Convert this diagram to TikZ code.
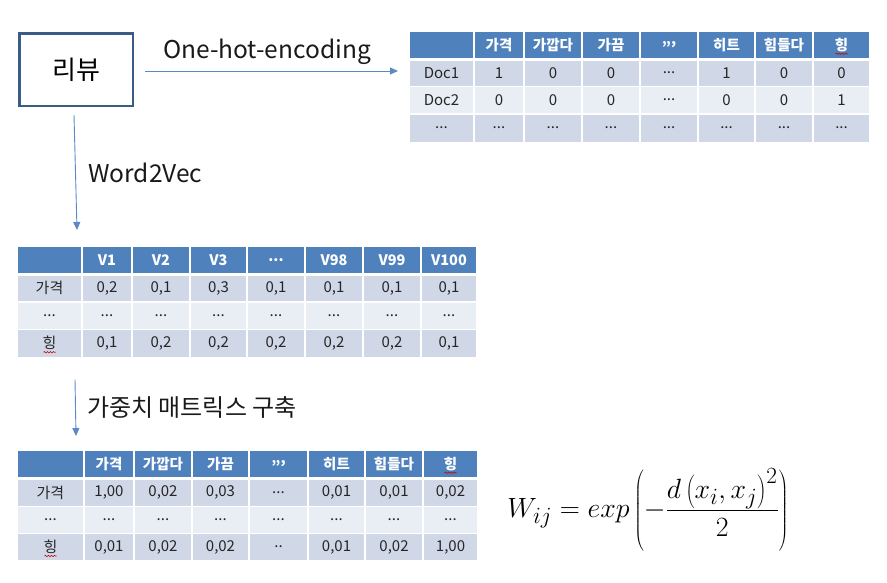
\documentclass[tikz,border=0pt]{standalone}
\usepackage{fontspec}
\setmainfont{Noto Sans CJK KR}
\usetikzlibrary{arrows.meta,decorations.pathmorphing,calc}
\definecolor{hdr}{HTML}{4F81BD}
\definecolor{rowa}{HTML}{D0D8E8}
\definecolor{rowb}{HTML}{E9EDF4}
\definecolor{boxc}{HTML}{3B5C86}
\definecolor{arrc}{HTML}{5A8AC6}

\newcommand{\tabrow}[7]{%
  \foreach \ctext [count=\ci from 0] in {#7} {%
    \pgfmathsetmacro\xa{{#6}[\ci]}%
    \pgfmathsetmacro\xb{{#6}[\ci+1]}%
    \node[#5, minimum width={(\xb-\xa-2)*1pt}, minimum height={(#4-#3)*1pt}]
      (#1-#2-\ci) at ({(\xa+\xb)/2},{(#3+#4)/2}) {\ctext};
  }}
\newcommand{\ddd}{...}
\newcommand{\dtwo}{..}

\begin{document}
\begin{tikzpicture}[x=1pt,y=-1pt,
  cellbase/.style={inner sep=0pt, outer sep=0pt, font=\fontsize{15}{17}\selectfont},
  hcell/.style={cellbase, fill=hdr, text=white, font=\fontsize{14.5}{17}\selectfont\bfseries},
  acell/.style={cellbase, fill=rowa, text=black!85},
  bcell/.style={cellbase, fill=rowb, text=black!85},
  arr/.style={draw=arrc, line width=0.9pt, -{Triangle[length=8pt,width=7pt]}},
  lbl/.style={font=\fontsize{24.5}{28}\selectfont, text=black!90, inner sep=0pt},
  squig/.style={draw=red!80!black, line width=0.6pt, decorate, decoration={snake,amplitude=0.7pt,segment length=3pt}}
]
\useasboundingbox (0,0) rectangle (887,582);

% review box
\node[draw=boxc, line width=2.5pt, minimum width=113.5pt, minimum height=72.5pt, inner sep=0pt,
      font=\fontsize{26}{30}\selectfont] (box) at (76,69.5) {리뷰};

% table 1 (one-hot)
\def\xsA{409,474,524,582,640,698,755,813,870}
\tabrow{TA}{0}{32}{57.5}{hcell}{\xsA}{{},가격,가깝다,가끔,{,,,},히트,힘들다,힝}
\tabrow{TA}{1}{60.5}{85.5}{acell}{\xsA}{Doc1,1,0,0,\ddd,1,0,0}
\tabrow{TA}{2}{87}{113}{bcell}{\xsA}{Doc2,0,0,0,\ddd,0,0,1}
\tabrow{TA}{3}{114.5}{141.5}{acell}{\xsA}{\ddd,\ddd,\ddd,\ddd,\ddd,\ddd,\ddd,\ddd}

% table 2 (word2vec)
\def\xsB{17,82,132,190,247,305,363,421,477}
\tabrow{TB}{0}{247}{272.5}{hcell}{\xsB}{{},V1,V2,V3,\ddd,V98,V99,V100}
\tabrow{TB}{1}{275.5}{301}{acell}{\xsB}{가격,{0,2},{0,1},{0,3},{0,1},{0,1},{0,1},{0,1}}
\tabrow{TB}{2}{302.5}{328.5}{bcell}{\xsB}{\ddd,\ddd,\ddd,\ddd,\ddd,\ddd,\ddd,\ddd}
\tabrow{TB}{3}{330}{356.5}{acell}{\xsB}{힝,{0,1},{0,2},{0,2},{0,2},{0,2},{0,2},{0,1}}

% table 3 (weights)
\def\xsC{17,84,134,192,249,308,365,423,478}
\tabrow{TC}{0}{451}{476.5}{hcell}{\xsC}{{},가격,가깝다,가끔,{,,,},히트,힘들다,힝}
\tabrow{TC}{1}{480}{505.5}{acell}{\xsC}{가격,{1,00},{0,02},{0,03},\ddd,{0,01},{0,01},{0,02}}
\tabrow{TC}{2}{507}{532.5}{bcell}{\xsC}{\ddd,\ddd,\ddd,\ddd,\ddd,\ddd,\ddd,\ddd}
\tabrow{TC}{3}{534}{560}{acell}{\xsC}{힝,{0,01},{0,02},{0,02},\dtwo,{0,01},{0,02},{1,00}}

% spell-check squiggles
\draw[squig] ([xshift=-6pt,yshift=-9pt]TA-0-7.center) -- ++(12,0);
\draw[squig] ([xshift=-6pt,yshift=-9pt]TB-3-0.center) -- ++(12,0);
\draw[squig] ([xshift=-6pt,yshift=-9pt]TC-0-7.center) -- ++(12,0);
\draw[squig] ([xshift=-6pt,yshift=-9pt]TC-3-0.center) -- ++(12,0);

% arrows
\draw[arr] ([xshift=11pt,yshift=-1.5pt]box.east) -- ([xshift=-12pt,yshift=-1.5pt]box.east -| TA-1-0.west);
\draw[arr] ([xshift=-2pt,yshift=-8pt]box.south) -- ([xshift=-6pt,yshift=17pt]TB-0-1.north west);
\draw[arr] ([xshift=25.5pt,yshift=-23pt]TB-3-0.south) -- ([xshift=25.5pt,yshift=15pt]TC-0-0.north);

% labels
\node[lbl] (lone) at (267,52) {One-hot-encoding};
\node[lbl, anchor=west] (lw2v) at (88,173) {Word2Vec};
\node[lbl, anchor=west, font=\fontsize{24}{28}\selectfont] (lgw) at (87,407) {가중치 매트릭스 구축};

% formula
\node[inner sep=0pt, font=\fontsize{24.88}{30}\selectfont] (wf) at (648,510)
  {\scalebox{1.12}{$\displaystyle W_{ij} = exp\left(-\frac{d\left(x_i,x_j\right)^2}{2}\right)$}};
\end{tikzpicture}
\end{document}
